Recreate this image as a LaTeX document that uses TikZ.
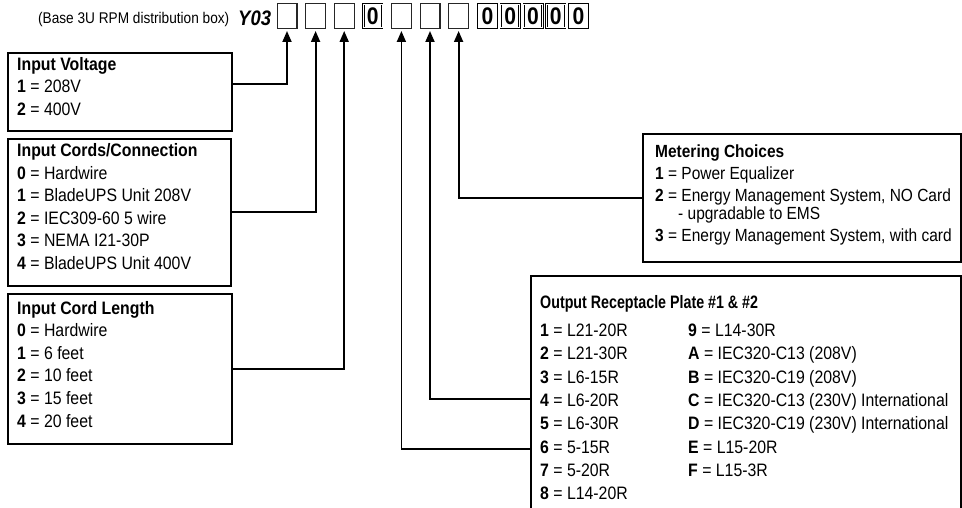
\documentclass[tikz,border=0pt]{standalone}
\usepackage{fontspec}
\setmainfont{Liberation Sans}[FakeStretch=0.88]
\usetikzlibrary{arrows.meta}
\begin{document}
\begin{tikzpicture}[x=1pt,y=-1pt,
  panel/.style={draw=black, line width=1.8pt, anchor=north west, inner sep=0pt},
  txt/.style={anchor=base west, inner sep=0pt, font=\fontsize{18}{22}\selectfont},
  mtxt/.style={anchor=base west, inner sep=0pt, font=\fontsize{17.6}{22}\selectfont},
  hdr/.style={anchor=base west, inner sep=0pt},
  digit/.style={minimum width=19.8pt, minimum height=24.8pt, inner sep=0pt, draw=black!85, line width=1.2pt},
  zdigit/.style={minimum width=18.7pt, minimum height=23.7pt, inner sep=0pt, draw=black, line width=0.7pt, double=white, double distance=0.9pt, font=\fontsize{24}{24}\bfseries\selectfont},
  conn/.style={line width=1.8pt, -{Triangle[length=11pt,width=9pt]}, shorten >=2pt}
]
\path[use as bounding box, clip] (0,0) rectangle (962,508);
\fill[white] (0,0) rectangle (962,508);

% header
\node[hdr, font=\fontsize{15.5}{16}\selectfont] (base) at (38,24) {(Base 3U RPM distribution box)};
\node[hdr, font=\fontsize{21}{21}\bfseries\itshape\selectfont] (y03) at (238,26) {Y03};
\foreach \i/\x in {1/287,2/315.6,3/344.2,5/401.4,6/430,7/458.6}
  \node[digit] (b\i) at (\x,16) {};
\node[zdigit] (b4) at (372.8,16) {0};
\foreach \i/\x in {8/487.5,9/510.25,10/533,11/555.75,12/578.5}
  \node[zdigit] (b\i) at (\x,16) {0};

% panels
\node[panel, minimum width=224pt, minimum height=78pt] (iv) at (7,52) {};
\node[panel, minimum width=223pt, minimum height=147pt] (ic) at (7,138) {};
\node[panel, minimum width=224pt, minimum height=150pt] (il) at (7,293) {};
\node[panel, minimum width=318pt, minimum height=128pt] (mc) at (642,133) {};
\node[panel, minimum width=430pt, minimum height=260pt] (op) at (530,275) {};

% Input Voltage
\node[txt] (ivT) at (17,70.5) {\textbf{Input Voltage}};
\node[txt] (iv1) at (17,93) {\textbf{1} = 208V};
\node[txt] (iv2) at (17,115.5) {\textbf{2} = 400V};

% Input Cords
\node[txt] (icT) at (17,156.5) {\textbf{Input Cords/Connection}};
\node[txt] (ic0) at (17,179.1) {\textbf{0} = Hardwire};
\node[txt] (ic1) at (17,201.7) {\textbf{1} = BladeUPS Unit 208V};
\node[txt] (ic2) at (17,224.3) {\textbf{2} = IEC309-60 5 wire};
\node[txt] (ic3) at (17,246.9) {\textbf{3} = NEMA I21-30P};
\node[txt] (ic4) at (17,269.5) {\textbf{4} = BladeUPS Unit 400V};

% Input Cord Length
\node[txt] (ilT) at (17,314) {\textbf{Input Cord Length}};
\node[txt] (il0) at (17,336.6) {\textbf{0} = Hardwire};
\node[txt] (il1) at (17,359.2) {\textbf{1} = 6 feet};
\node[txt] (il2) at (17,381.8) {\textbf{2} = 10 feet};
\node[txt] (il3) at (17,404.4) {\textbf{3} = 15 feet};
\node[txt] (il4) at (17,427) {\textbf{4} = 20 feet};

% Metering
\node[mtxt] (mcT) at (655,158) {\textbf{Metering Choices}};
\node[mtxt] (mc1) at (655,179.5) {\textbf{1} = Power Equalizer};
\node[mtxt] (mc2) at (655,201) {\textbf{2} = Energy Management System, NO Card};
\node[mtxt] (mc2b) at (678,220) {- upgradable to EMS};
\node[mtxt] (mc3) at (655,241.5) {\textbf{3} = Energy Management System, with card};

% Output
\node[txt] (opT) at (540,308.5) {\scalebox{0.9}[1]{\textbf{Output Receptacle Plate \#1 \& \#2}}};
\node[txt] (o1) at (540,336.5) {\textbf{1} = L21-20R};
\node[txt] (o2) at (540,359.8) {\textbf{2} = L21-30R};
\node[txt] (o3) at (540,383.1) {\textbf{3} = L6-15R};
\node[txt] (o4) at (540,406.4) {\textbf{4} = L6-20R};
\node[txt] (o5) at (540,429.7) {\textbf{5} = L6-30R};
\node[txt] (o6) at (540,453) {\textbf{6} = 5-15R};
\node[txt] (o7) at (540,476.3) {\textbf{7} = 5-20R};
\node[txt] (o8) at (540,499.6) {\textbf{8} = L14-20R};
\node[txt] (o9) at (688,336.5) {\textbf{9} = L14-30R};
\node[txt] (oA) at (688,359.8) {\textbf{A} = IEC320-C13 (208V)};
\node[txt] (oB) at (688,383.1) {\textbf{B} = IEC320-C19 (208V)};
\node[txt] (oC) at (688,406.4) {\textbf{C} = IEC320-C13 (230V) International};
\node[txt] (oD) at (688,429.7) {\textbf{D} = IEC320-C19 (230V) International};
\node[txt] (oE) at (688,453) {\textbf{E} = L15-20R};
\node[txt] (oF) at (688,476.3) {\textbf{F} = L15-3R};

% connectors
\draw[conn] ([yshift=8pt]iv.east) -| (b1.south);
\draw[conn] (ic.east) -| (b2.south);
\draw[conn] (il.east) -| (b3.south);
\draw[conn] (mc.west) -| (b7.south);
\draw[conn] ([yshift=-124pt]op.north west) -| (b6.south);
\draw[conn] ([yshift=-174pt]op.north west) -| (b5.south);
\end{tikzpicture}
\end{document}
